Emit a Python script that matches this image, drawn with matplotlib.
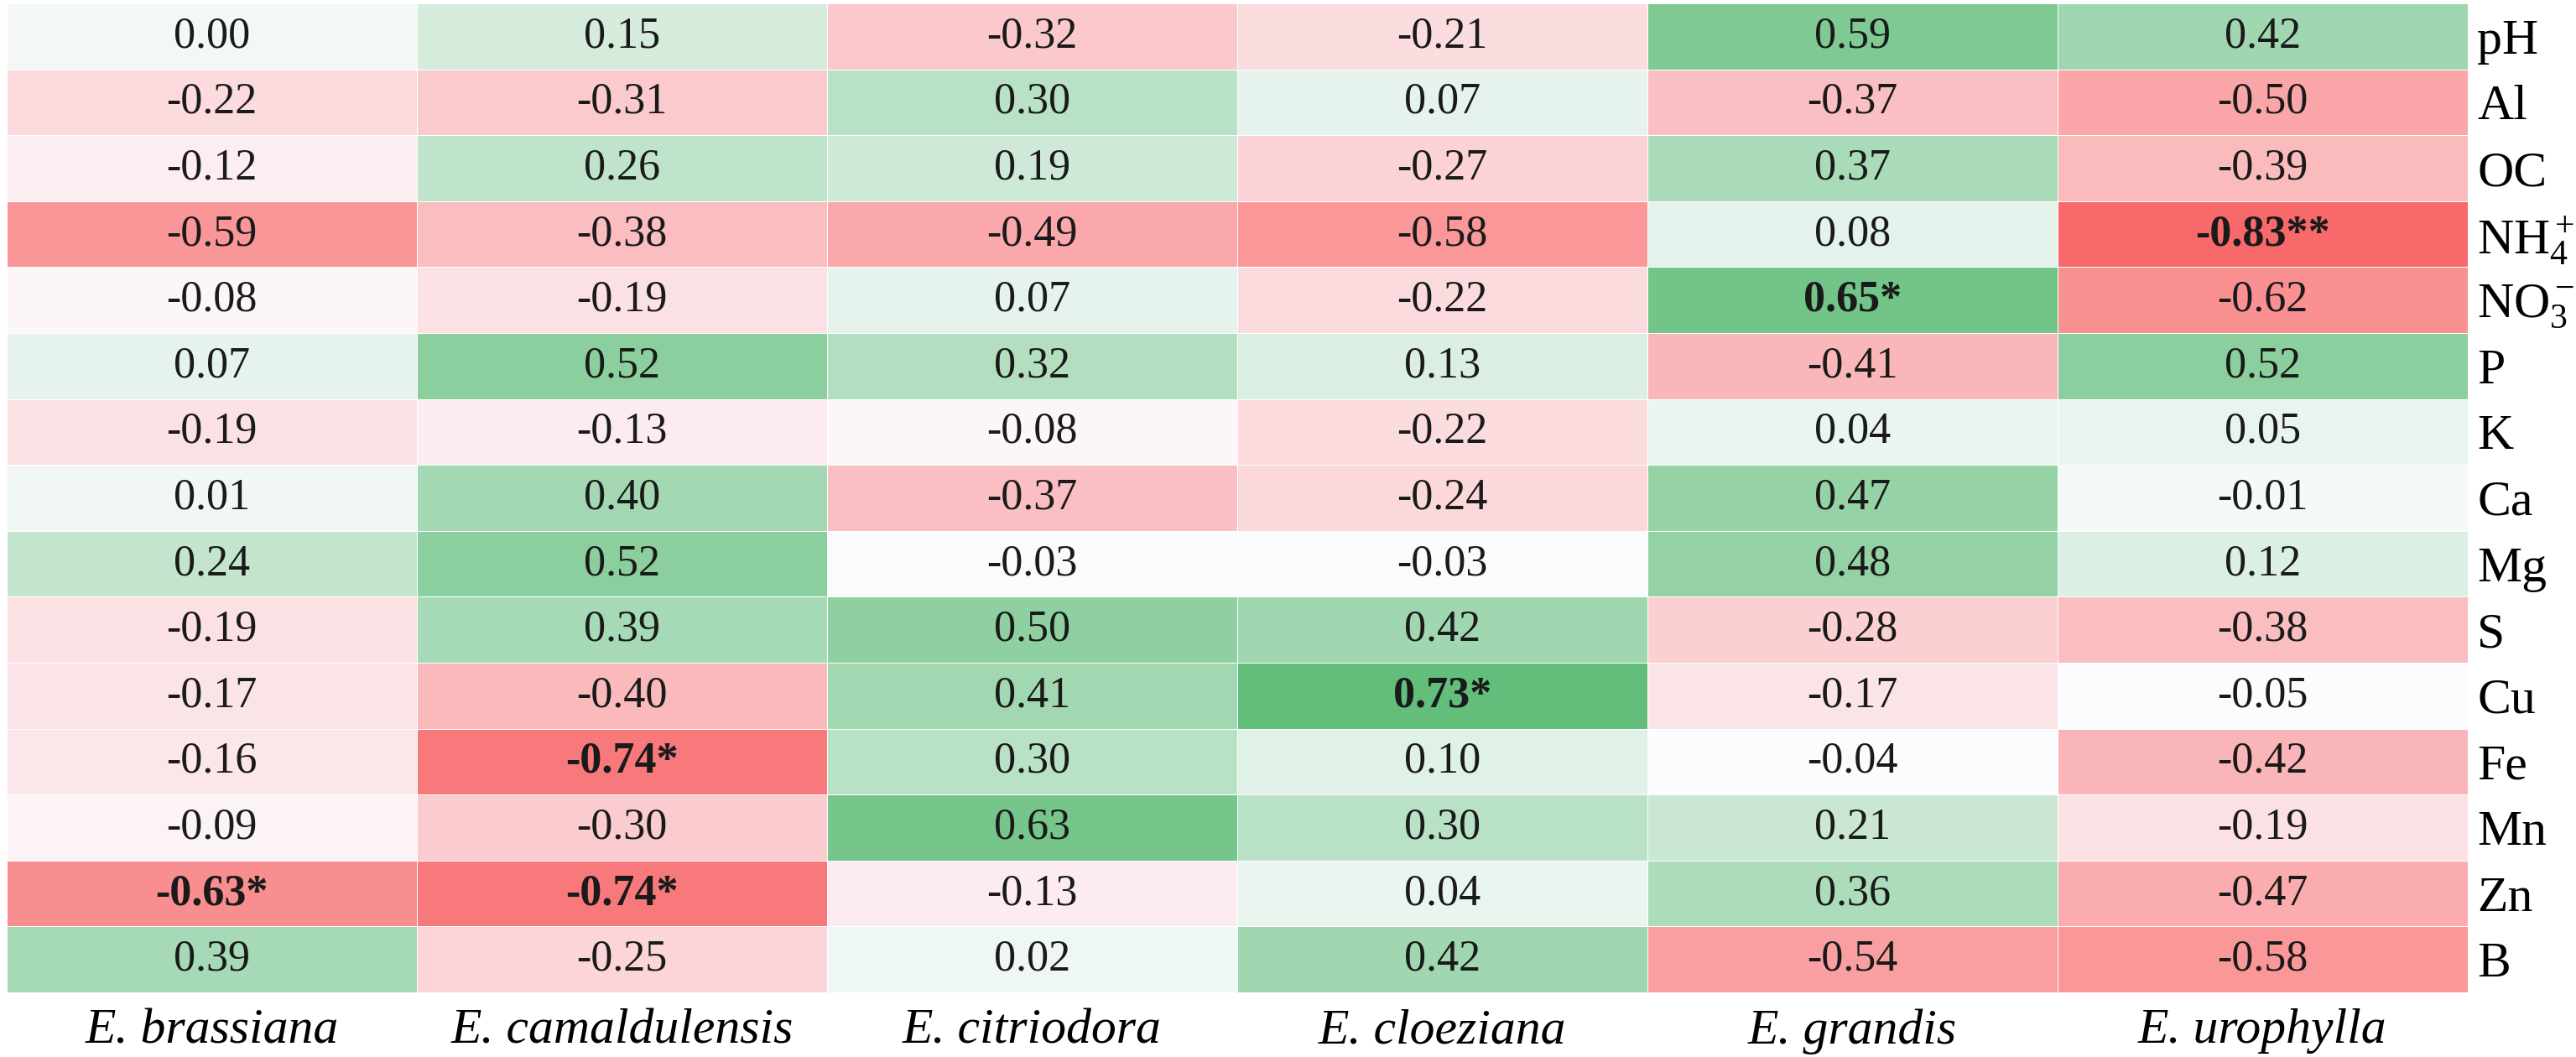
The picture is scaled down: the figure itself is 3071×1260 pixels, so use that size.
import numpy as np
import matplotlib
matplotlib.use("Agg")
import matplotlib.pyplot as plt
from matplotlib import font_manager
from matplotlib.colors import LinearSegmentedColormap, TwoSlopeNorm

# Dados
species = ["E. brassiana", "E. camaldulensis", "E. citriodora",
           "E. cloeziana", "E. grandis", "E. urophylla"]
soil_vars = ["pH", "Al", "OC", r"NH$_4^+$", r"NO$_3^-$", "P", "K", "Ca",
             "Mg", "S", "Cu", "Fe", "Mn", "Zn", "B"]

r_pH  = [0.00, 0.15, -0.32, -0.21, 0.59, 0.42]
r_Al  = [-0.22, -0.31, 0.30, 0.07, -0.37, -0.50]
r_OC  = [-0.12, 0.26, 0.19, -0.27, 0.37, -0.39]
r_NH4 = [-0.59, -0.38, -0.49, -0.58, 0.08, -0.83]
r_NO3 = [-0.08, -0.19, 0.07, -0.22, 0.65, -0.62]
r_P   = [0.07, 0.52, 0.32, 0.13, -0.41, 0.52]
r_K   = [-0.19, -0.13, -0.08, -0.22, 0.04, 0.05]
r_Ca  = [0.01, 0.40, -0.37, -0.24, 0.47, -0.01]
r_Mg  = [0.24, 0.52, -0.03, -0.03, 0.48, 0.12]
r_S   = [-0.19, 0.39, 0.50, 0.42, -0.28, -0.38]
r_Cu  = [-0.17, -0.40, 0.41, 0.73, -0.17, -0.05]
r_Fe  = [-0.16, -0.74, 0.30, 0.10, -0.04, -0.42]
r_Mn  = [-0.09, -0.30, 0.63, 0.30, 0.21, -0.19]
r_Zn  = [-0.63, -0.74, -0.13, 0.04, 0.36, -0.47]
r_B   = [0.39, -0.25, 0.02, 0.42, -0.54, -0.58]

# significancia (linha, coluna, estrelas)
signif = [(3, 5, "**"), (4, 4, "*"), (10, 3, "*"), (11, 1, "*"),
          (13, 0, "*"), (13, 1, "*")]

R = np.array([r_pH, r_Al, r_OC, r_NH4, r_NO3, r_P, r_K, r_Ca, r_Mg,
              r_S, r_Cu, r_Fe, r_Mn, r_Zn, r_B])
stars = np.full(R.shape, "", dtype=object)
for i, j, s in signif:
    stars[i, j] = s

# fonte serifada (tipo Times)
names = {f.name for f in font_manager.fontManager.ttflist}
serif = "Liberation Serif" if "Liberation Serif" in names else "DejaVu Serif"
plt.rcParams["font.family"] = "serif"
plt.rcParams["font.serif"] = [serif, "DejaVu Serif"]
plt.rcParams["mathtext.fontset"] = "custom"
plt.rcParams["mathtext.rm"] = serif
plt.rcParams["mathtext.it"] = serif + ":italic"

# escala de 3 cores estilo Excel (min - mediana - max)
cmap = LinearSegmentedColormap.from_list(
    "rwg", ["#F8696B", "#FCFCFF", "#63BE7B"])
norm = TwoSlopeNorm(vmin=R.min(), vcenter=np.median(R), vmax=R.max())

W, H = 3071, 1260
fig = plt.figure(figsize=(W / 100, H / 100), dpi=100)
ax = fig.add_axes([8 / W, 1 - 1183 / H, (2942 - 8) / W, (1183 - 4) / H])

nr, nc = R.shape
ax.pcolormesh(np.arange(nc + 1), np.arange(nr + 1), R, cmap=cmap, norm=norm,
              edgecolor="white", linewidth=0.6)
ax.set_xlim(0, nc)
ax.set_ylim(nr, 0)

for i in range(nr):
    for j in range(nc):
        txt = f"{R[i, j]:.2f}" + stars[i, j]
        ax.text(j + 0.5, i + 0.5, txt, ha="center", va="center",
                fontsize=37.5, color="#1a1a1a",
                fontweight="bold" if stars[i, j] else "normal")

ax.set_xticks(np.arange(nc) + 0.5)
ax.set_xticklabels(species, fontstyle="italic", fontsize=43)
ax.set_yticks(np.arange(nr) + 0.5)
ax.set_yticklabels(soil_vars, fontsize=43)
ax.yaxis.tick_right()
ax.tick_params(length=0)
ax.tick_params(axis="y", pad=8)
ax.tick_params(axis="x", pad=14)
for s in ax.spines.values():
    s.set_visible(False)

fig.savefig("out.png", dpi=100)
